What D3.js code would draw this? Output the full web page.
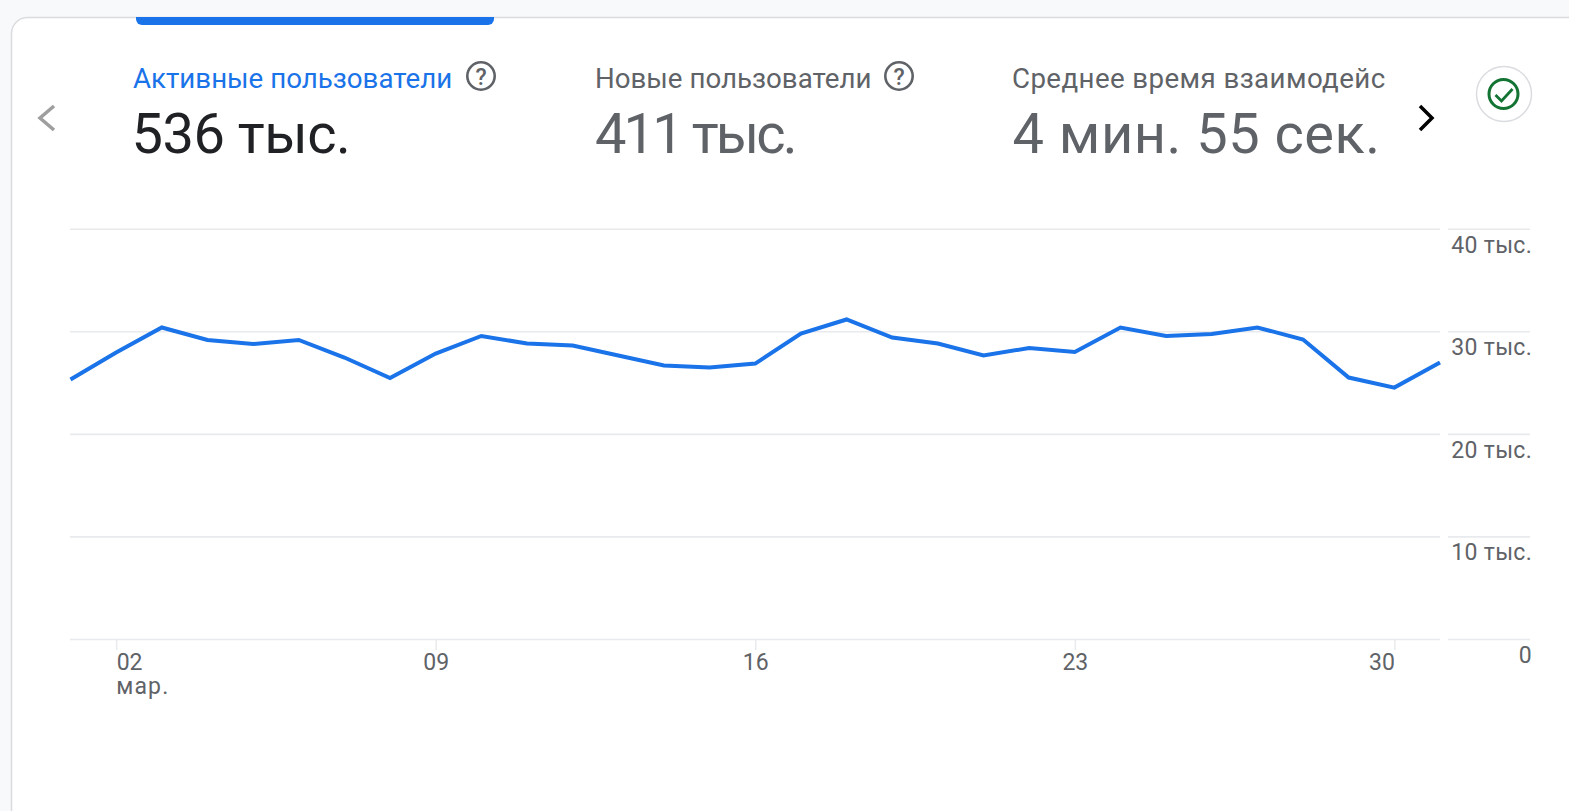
<!DOCTYPE html>
<html>
<head>
<meta charset="utf-8">
<script src="https://cdn.jsdelivr.net/npm/d3@7"></script>
<style>
  html, body { margin: 0; padding: 0; background: #f8f9fa; overflow: hidden; }
  text { font-family: Roboto, sans-serif; }
  .axis .domain { display: none; }
</style>
</head>
<body>
<svg id="chart"></svg>
<script>
const days = [1,2,3,4,5,6,7,8,9,10,11,12,13,14,15,16,17,18,19,20,21,22,23,24,25,26,27,28,29,30,31];
const activeUsers = [25290,27930,30370,29150,28760,29150,27440,25440,27830,29540,28810,28610,27640,26660,26460,26850,29780,31150,29390,28810,27640,28370,27980,30370,29540,29740,30370,29200,25490,24510,26950];
const dayTicks = [2,9,16,23,30];
const valueTicks = [0,10000,20000,30000,40000];
const valueLabels = ["0","10 тыс.","20 тыс.","30 тыс.","40 тыс."];
const monthLabel = "мар.";
const tabTitles = ["Активные пользователи","Новые пользователи","Среднее время взаимодейс"];
const tabValues = ["536 тыс.","411 тыс.","4 мин. 55 сек."];

const width = 1569, height = 811;
const blue = "#1a73e8", grey = "#5f6368", gridColor = "#e8eaed";

const svg = d3.select("#chart")
    .attr("width", width)
    .attr("height", height)
    .style("display", "block");

// card, runs off the right and bottom of the window
svg.append("rect")
    .attr("x", 11.5).attr("y", 17.5)
    .attr("width", 1600).attr("height", 900)
    .attr("rx", 16)
    .attr("fill", "#fff")
    .attr("stroke", "#dadce0")
    .attr("stroke-width", 1.5);

// selected tab marker
svg.append("path")
    .attr("d", "M136,17H494V19a6,6 0 0 1 -6,6H142a6,6 0 0 1 -6,-6Z")
    .attr("fill", blue);

const tabX = [133, 595, 1012];
const valueX = [131.5, 595, 1012.5];
const titleColor = [blue, grey, grey];
const valueColor = ["#202124", grey, grey];
const titleSpacing = [0, 0, 0.4];
const valueSpacing = [-0.5, -2.9, 0.5];

svg.selectAll(".tab-title")
    .data(tabTitles)
    .enter().append("text")
    .attr("class", "tab-title")
    .text(d => d)
    .attr("x", (d, i) => tabX[i])
    .attr("y", 88)
    .attr("fill", (d, i) => titleColor[i])
    .style("letter-spacing", (d, i) => titleSpacing[i] + "px")
    .style("font-size", "27.7px");

svg.selectAll(".tab-value")
    .data(tabValues)
    .enter().append("text")
    .attr("class", "tab-value")
    .text(d => d)
    .attr("x", (d, i) => valueX[i])
    .attr("y", 153)
    .attr("fill", (d, i) => valueColor[i])
    .style("letter-spacing", (d, i) => valueSpacing[i] + "px")
    .style("font-size", "56px");

// help icons
[481, 899].forEach(cx => {
    svg.append("circle")
        .attr("cx", cx).attr("cy", 76).attr("r", 13.7)
        .attr("fill", "none")
        .attr("stroke", grey)
        .attr("stroke-width", 2.6);
    svg.append("text")
        .text("?")
        .attr("x", cx).attr("y", 84.5)
        .attr("text-anchor", "middle")
        .attr("fill", grey)
        .style("font-size", "23px")
        .style("font-weight", 500);
});

// scroll arrows
svg.append("path")
    .attr("d", "M54,106L40,118L54,130")
    .attr("fill", "none")
    .attr("stroke", "#9e9e9e")
    .attr("stroke-width", 3.5);
svg.append("path")
    .attr("d", "M1420,106L1432,118L1420,130")
    .attr("fill", "none")
    .attr("stroke", "#000")
    .attr("stroke-width", 3.5);

// check badge
svg.append("circle")
    .attr("cx", 1504).attr("cy", 94).attr("r", 27.5)
    .attr("fill", "#fff")
    .attr("stroke", "#dadce0")
    .attr("stroke-width", 1.5);
svg.append("circle")
    .attr("cx", 1503.5).attr("cy", 94).attr("r", 14.5)
    .attr("fill", "none")
    .attr("stroke", "#137333")
    .attr("stroke-width", 3);
svg.append("path")
    .attr("d", "M1495.5,95L1501.5,101L1512.5,89")
    .attr("fill", "none")
    .attr("stroke", "#137333")
    .attr("stroke-width", 2.8);

const x = d3.scaleLinear().domain([1, 31]).range([70.5, 1440]);
const y = d3.scaleLinear().domain([0, 40000]).range([639, 228.7]);

// gridlines, left part under the plot
const yGrid = svg.append("g")
    .attr("class", "axis")
    .attr("transform", "translate(70,0)")
    .call(d3.axisRight(y).tickValues(valueTicks).tickSize(1370).tickFormat(""));
yGrid.selectAll("line").attr("stroke", gridColor).attr("stroke-width", 1.6);

// right axis with its own short rules
const yAxis = svg.append("g")
    .attr("class", "axis")
    .attr("transform", "translate(1448,0)")
    .call(d3.axisRight(y).tickValues(valueTicks).tickSize(82)
        .tickFormat((d, i) => valueLabels[i]));
yAxis.selectAll("line").attr("stroke", gridColor).attr("stroke-width", 1.6);
yAxis.selectAll("text")
    .attr("x", 84)
    .attr("y", 16)
    .attr("text-anchor", "end")
    .attr("fill", grey)
    .style("letter-spacing", "0.3px")
    .style("font-size", "23px");

const xAxis = svg.append("g")
    .attr("class", "axis")
    .attr("transform", "translate(0,639)")
    .call(d3.axisBottom(x).tickValues(dayTicks).tickSize(11)
        .tickFormat(d => String(d).padStart(2, "0")));
xAxis.selectAll("line").attr("stroke", gridColor).attr("stroke-width", 1.5);
xAxis.selectAll("text")
    .attr("y", 30.5)
    .attr("dy", 0)
    .attr("text-anchor", d => d === 2 ? "start" : d === 30 ? "end" : "middle")
    .attr("fill", grey)
    .style("font-size", "23px");

xAxis.append("text")
    .text(monthLabel)
    .attr("x", x(2))
    .attr("y", 55)
    .attr("text-anchor", "start")
    .attr("fill", grey)
    .style("letter-spacing", "1.2px")
    .style("font-size", "23px");

const line = d3.line()
    .x((d, i) => x(days[i]))
    .y(d => y(d));

svg.append("path")
    .datum(activeUsers)
    .attr("d", line)
    .attr("fill", "none")
    .attr("stroke", blue)
    .attr("stroke-width", 4);
</script>
</body>
</html>
